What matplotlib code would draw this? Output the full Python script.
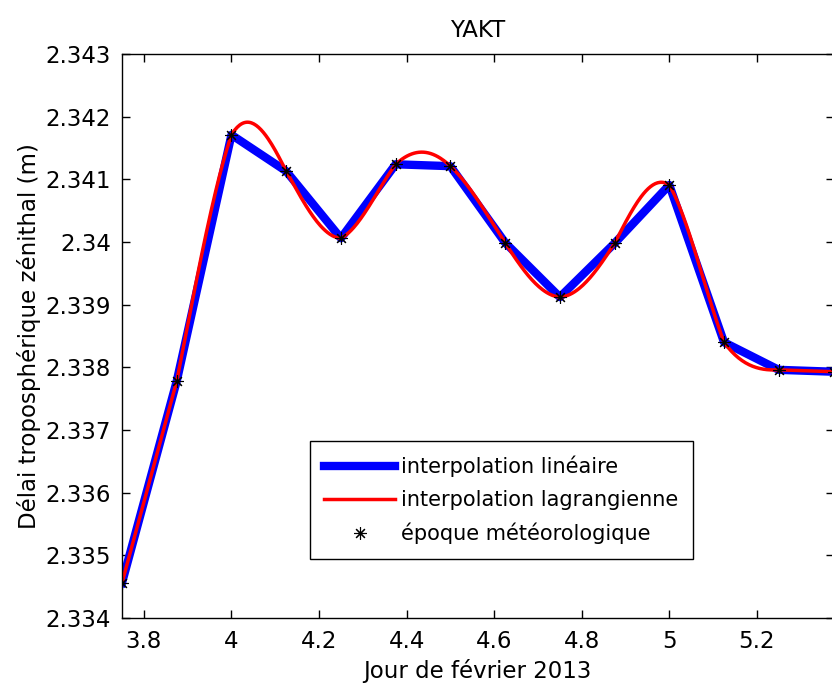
import numpy as np
import matplotlib
matplotlib.use("Agg")
import matplotlib.pyplot as plt

# epochs (day of February 2013) and zenith tropospheric delay (m)
jours = [3.75, 3.875, 4.0, 4.125, 4.25, 4.375, 4.5, 4.625,
         4.75, 4.875, 5.0, 5.125, 5.25, 5.375]
delai = [2.33456, 2.33778, 2.34171, 2.34113, 2.34006, 2.34124, 2.34121, 2.33999,
         2.33912, 2.33998, 2.34091, 2.33840, 2.33796, 2.33793]

xticks = [3.8, 4.0, 4.2, 4.4, 4.6, 4.8, 5.0, 5.2]
yticks = [2.334, 2.335, 2.336, 2.337, 2.338, 2.339, 2.340, 2.341, 2.342, 2.343]


def lagrange_local(x, y, xi):
    # centred Lagrange per interval: 6 points if possible, then 4, then 2
    x = np.asarray(x)
    y = np.asarray(y)
    n = len(x)
    out = np.empty_like(xi)
    for k, t in enumerate(xi):
        i = np.searchsorted(x, t) - 1
        i = min(max(i, 0), n - 2)
        for h in (2, 1, 0):
            if i - h >= 0 and i + 1 + h <= n - 1:
                idx = list(range(i - h, i + 2 + h))
                break
        val = 0.0
        for j in idx:
            w = 1.0
            for m in idx:
                if m != j:
                    w *= (t - x[m]) / (x[j] - x[m])
            val += w * y[j]
        out[k] = val
    return out


xf = np.linspace(jours[0], jours[-1], 600)
yf = lagrange_local(jours, delai, xf)

fig = plt.figure(figsize=(8.32, 6.84), dpi=100)
ax = fig.add_axes([122 / 832, 66 / 684, 711.5 / 832, 564 / 684])

ax.plot(jours, delai, color=(0, 0, 1), lw=6, label="interpolation linéaire")
ax.plot(xf, yf, color=(1, 0, 0), lw=2.5, label="interpolation lagrangienne")
ax.plot(jours, delai, ls="none", marker=(8, 2, 0), ms=9, mew=0.8, color="k",
        label="époque météorologique")

ax.set_xlim(3.75, 5.375)
ax.set_ylim(2.334, 2.343)
ax.set_xticks(xticks)
ax.set_xticklabels([f"{v:g}" for v in xticks])
ax.set_yticks(yticks)
ax.set_yticklabels([f"{v:g}" for v in yticks])
ax.tick_params(direction="in", top=True, right=True, length=6, width=1,
               labelsize=16.5)
ax.tick_params(axis="x", pad=9)
ax.tick_params(axis="y", pad=8)
for sp in ax.spines.values():
    sp.set_linewidth(1)

ax.set_title("YAKT", fontsize=16.5, pad=12)
ax.set_xlabel("Jour de février 2013", fontsize=16.5, labelpad=4)
ax.set_ylabel("Délai troposphérique zénithal (m)", fontsize=16.5, labelpad=3)

leg = ax.legend(loc="center", bbox_to_anchor=(501.5 / 832, 1 - 500 / 684),
                bbox_transform=fig.transFigure, fontsize=15, fancybox=False,
                edgecolor="k", framealpha=1, handlelength=3.4,
                handletextpad=0.3, labelspacing=0.62, borderpad=0.7)
leg.get_frame().set_linewidth(1)

fig.savefig("out.png", dpi=100)
